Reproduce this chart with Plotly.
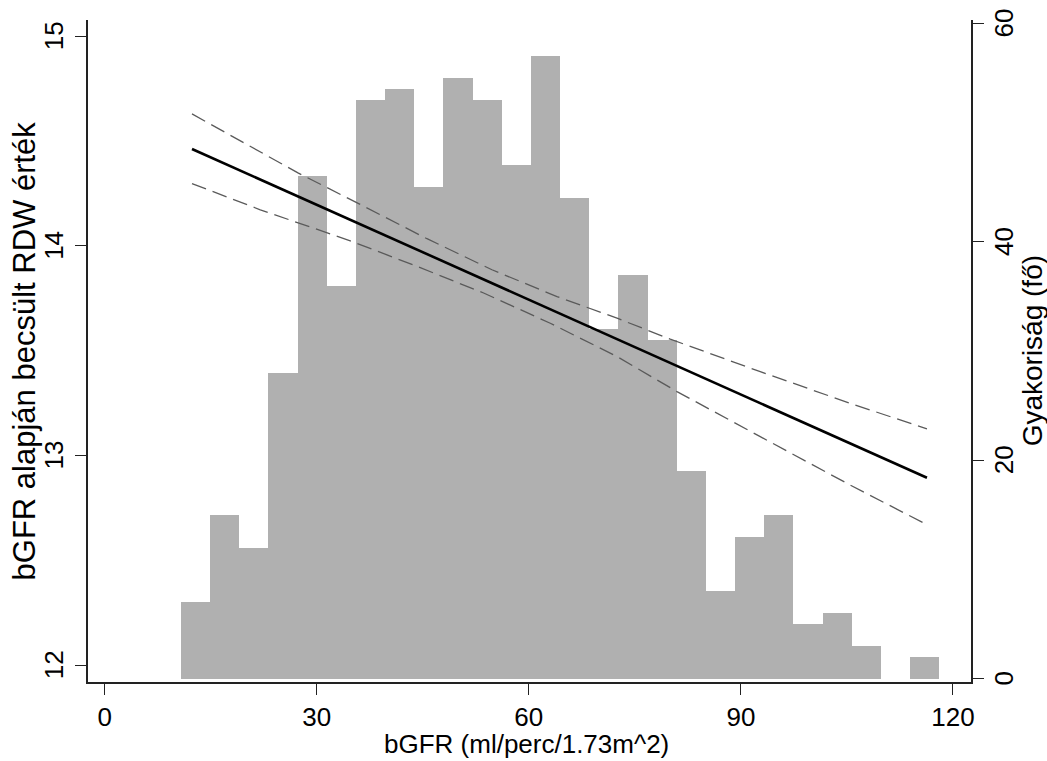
import plotly.graph_objects as go

# Histogram of bGFR (counts per bin), 26 equal-width bins
bin_start = 10.8
bin_width = 4.125
bin_counts = [7, 15, 12, 28, 46, 36, 53, 54, 45, 55, 53, 47, 57,
              44, 32, 37, 31, 19, 8, 13, 15, 5, 6, 3, 0, 2]

# Linear fit of estimated RDW on bGFR
fit_x = [12.36, 116.32]
fit_y = [14.462, 12.894]

# 95% confidence band of the fit
ci_upper_x = [12.36, 27.35, 36.41, 45.60, 54.79, 63.99, 72.48, 80.01, 92.74, 105.47, 116.32]
ci_upper_y = [14.629, 14.348, 14.193, 14.034, 13.886, 13.758, 13.655, 13.555, 13.400, 13.249, 13.127]
ci_lower_x = [12.36, 22.02, 34.75, 44.19, 53.61, 63.04, 72.48, 80.96, 92.74, 105.47, 116.32]
ci_lower_y = [14.297, 14.172, 14.024, 13.902, 13.775, 13.631, 13.472, 13.305, 13.090, 12.859, 12.670]

x_ticks = [0, 30, 60, 90, 120]
rdw_ticks = [12, 13, 14, 15]
count_ticks = [0, 20, 40, 60]

x_title = "bGFR (ml/perc/1.73m^2)"
rdw_title = "bGFR alapján becsült RDW érték"
count_title = "Gyakoriság (fő)"

FONT = "Liberation Sans, Arial, sans-serif"
INK = "#000000"

bin_centers = [bin_start + (i + 0.5) * bin_width for i in range(len(bin_counts))]

fig = go.Figure()

# bars on the primary (right-hand, counts) axis so the fit lines sit on top
fig.add_trace(go.Bar(
    x=bin_centers, y=bin_counts, width=bin_width,
    marker=dict(color="#b0b0b0", line=dict(width=0)),
    yaxis="y", showlegend=False, hoverinfo="skip",
))

dash_style = dict(color="#5a5a5a", width=1.3, dash="15px,7px")
fig.add_trace(go.Scatter(x=ci_upper_x, y=ci_upper_y, mode="lines", line=dash_style,
                         yaxis="y2", showlegend=False))
fig.add_trace(go.Scatter(x=ci_lower_x, y=ci_lower_y, mode="lines", line=dash_style,
                         yaxis="y2", showlegend=False))
fig.add_trace(go.Scatter(x=fit_x, y=fit_y, mode="lines",
                         line=dict(color=INK, width=2.6),
                         yaxis="y2", showlegend=False))

axis_common = dict(
    showline=True, linecolor="#222222", linewidth=1.5,
    ticks="outside", ticklen=11, tickwidth=1.4, tickcolor="#222222",
    showgrid=False, zeroline=False,
    tickfont=dict(family=FONT, size=26, color=INK),
)

tick_font = dict(family=FONT, size=26, color=INK)

# rotated y tick labels, placed as annotations so their distance from the axis is exact
annotations = []
for v in rdw_ticks:
    annotations.append(dict(text=str(v), xref="paper", yref="y2", x=-0.0385, y=v,
                            xanchor="center", yanchor="middle", textangle=-90,
                            showarrow=False, font=tick_font))
for v in count_ticks:
    annotations.append(dict(text=str(v), xref="paper", yref="y", x=1.0374, y=v,
                            xanchor="center", yanchor="middle", textangle=-90,
                            showarrow=False, font=tick_font))

annotations += [
    dict(text=x_title, xref="paper", yref="paper", x=0.497, y=-0.093,
         xanchor="center", yanchor="middle", showarrow=False,
         font=dict(family=FONT, size=26, color=INK)),
    dict(text=rdw_title, xref="paper", yref="paper", x=-0.072, y=0.5,
         xanchor="center", yanchor="middle", textangle=-90, showarrow=False,
         font=dict(family=FONT, size=31, color=INK)),
    dict(text=count_title, xref="paper", yref="paper", x=1.0695, y=0.5,
         xanchor="center", yanchor="middle", textangle=-90, showarrow=False,
         font=dict(family=FONT, size=28, color=INK)),
]

fig.update_layout(
    width=1047, height=761,
    margin=dict(l=88, r=76, t=20, b=79, autoexpand=False),
    paper_bgcolor="white", plot_bgcolor="white",
    bargap=0,
    xaxis=dict(range=[-2.35, 122.55], tickvals=x_ticks, **axis_common),
    yaxis=dict(range=[-0.312, 60.32], tickvals=count_ticks, side="right",
               showticklabels=False, **axis_common),
    yaxis2=dict(range=[11.92, 15.077], tickvals=rdw_ticks, side="left",
                overlaying="y", showticklabels=False, **axis_common),
    annotations=annotations,
)

fig.write_html("out.html")
